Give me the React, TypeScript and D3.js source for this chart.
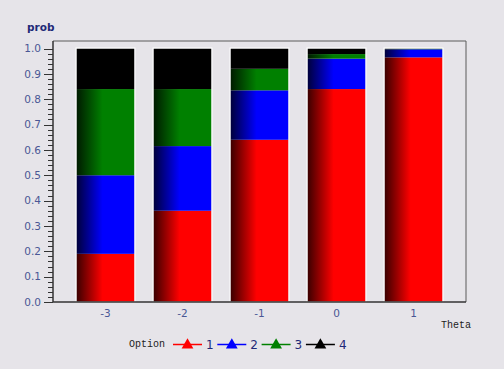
import React, { useEffect, useRef } from "react";
import * as d3 from "d3";

// theta categories on the x axis
const thetas = ["-3", "-2", "-1", "0", "1"];
const options = ["1", "2", "3", "4"];
// probability of each option at each theta
const opt1 = [0.19, 0.36, 0.64, 0.84, 0.965];
const opt2 = [0.31, 0.255, 0.195, 0.12, 0.032];
const opt3 = [0.34, 0.225, 0.085, 0.018, 0.002];
const opt4 = [0.16, 0.16, 0.08, 0.022, 0.001];
const yTicks = [0, 0.1, 0.2, 0.3, 0.4, 0.5, 0.6, 0.7, 0.8, 0.9, 1.0];

const colors = ["#ff0000", "#0000ff", "#008000", "#000000"];
const darks = ["#3a0000", "#00003a", "#001a00", "#000000"];

export default function App() {
  const ref = useRef<SVGSVGElement>(null);

  useEffect(() => {
    const W = 504, H = 369;
    const margin = { top: 41, right: 38, bottom: 67, left: 53 };
    const svg = d3.select(ref.current);
    svg.selectAll("*").remove();

    svg.append("rect").attr("width", W).attr("height", H).attr("fill", "#e6e4e9");

    const defs = svg.append("defs");
    colors.forEach((c, i) => {
      const g = defs.append("linearGradient").attr("id", "grad" + i)
        .attr("x1", "0").attr("x2", "1").attr("y1", "0").attr("y2", "0");
      g.append("stop").attr("offset", "0").attr("stop-color", darks[i]);
      g.append("stop").attr("offset", "0.45").attr("stop-color", c);
      g.append("stop").attr("offset", "1").attr("stop-color", c);
    });

    const x = d3.scaleBand()
      .domain(thetas)
      .range([margin.left, W - margin.right])
      .paddingInner(0.247)
      .paddingOuter(0.305);
    const y = d3.scaleLinear().domain([0, 1]).range([H - margin.bottom, 48.5]);

    const rows = thetas.map((t, i) => ({ theta: t, "1": opt1[i], "2": opt2[i], "3": opt3[i], "4": opt4[i] }));
    const stacked = d3.stack<any>().keys(options)(rows);

    const bars = svg.append("g");
    stacked.forEach((layer, k) => {
      bars.append("g")
        .selectAll("rect")
        .data(layer)
        .join("rect")
        .attr("x", (d: any) => x(d.data.theta)!)
        .attr("width", x.bandwidth())
        .attr("y", (d) => y(d[1]))
        .attr("height", (d) => Math.max(0, y(d[0]) - y(d[1])))
        .attr("fill", `url(#grad${k})`);
    });
    // white outline around each bar
    bars.append("g").selectAll("rect").data(thetas).join("rect")
      .attr("x", (d) => x(d)! - 0.5)
      .attr("width", x.bandwidth() + 1)
      .attr("y", y(1) - 0.5)
      .attr("height", y(0) - y(1) + 0.5)
      .attr("fill", "none")
      .attr("stroke", "#ffffff")
      .attr("stroke-width", 1);

    // frame
    const x0 = margin.left, x1 = W - margin.right, yb = H - margin.bottom, yt = margin.top;
    svg.append("path").attr("d", `M${x0},${yt}H${x1}V${yb}`)
      .attr("fill", "none").attr("stroke", "#5a5a5a").attr("stroke-width", 1);

    // y axis
    const yAxis = svg.append("g");
    yAxis.append("line").attr("x1", x0).attr("x2", x0).attr("y1", yt).attr("y2", yb)
      .attr("stroke", "#333").attr("stroke-width", 1.5);
    const minor = d3.range(0, 1.0001, 0.02);
    yAxis.selectAll("line.minor").data(minor).join("line").attr("class", "minor")
      .attr("x1", x0 - 5).attr("x2", x0).attr("y1", (d) => Math.round(y(d)) + 0.5).attr("y2", (d) => Math.round(y(d)) + 0.5)
      .attr("stroke", "#333");
    yAxis.selectAll("line.major").data(yTicks).join("line").attr("class", "major")
      .attr("x1", x0 - 9).attr("x2", x0).attr("y1", (d) => Math.round(y(d)) + 0.5).attr("y2", (d) => Math.round(y(d)) + 0.5)
      .attr("stroke", "#333");
    yAxis.selectAll("text").data(yTicks).join("text")
      .attr("x", 41).attr("y", (d) => y(d)).attr("dy", "0.35em")
      .attr("text-anchor", "end")
      .attr("font-family", "DejaVu Sans, sans-serif").attr("font-size", 10.5)
      .attr("fill", "#4a5795")
      .text((d) => d3.format(".1f")(d));

    svg.append("text").attr("x", 27).attr("y", 31)
      .attr("font-family", "DejaVu Sans, sans-serif").attr("font-size", 10.5).attr("font-weight", "bold")
      .attr("fill", "#1f2a78").text("prob");

    // x axis
    svg.append("line").attr("x1", x0).attr("x2", x1).attr("y1", yb).attr("y2", yb)
      .attr("stroke", "#333").attr("stroke-width", 1.5);
    svg.append("g").selectAll("text").data(thetas).join("text")
      .attr("x", (d) => x(d)! + x.bandwidth() / 2).attr("y", 317)
      .attr("text-anchor", "middle")
      .attr("font-family", "DejaVu Sans, sans-serif").attr("font-size", 10.5)
      .attr("fill", "#4a5795").text((d) => d);

    svg.append("text").attr("x", 441).attr("y", 328)
      .attr("font-family", "Liberation Mono, monospace").attr("font-size", 10)
      .attr("fill", "#222").text("Theta");

    // legend
    const lg = svg.append("g");
    lg.append("text").attr("x", 129).attr("y", 347)
      .attr("font-family", "Liberation Mono, monospace").attr("font-size", 10)
      .attr("fill", "#222").text("Option");
    const tri = d3.symbol().type(d3.symbolTriangle).size(60);
    options.forEach((o, i) => {
      const lx = 173 + i * 44.3;
      const g = lg.append("g");
      g.append("line").attr("x1", lx).attr("x2", lx + 29).attr("y1", 344.5).attr("y2", 344.5)
        .attr("stroke", colors[i]).attr("stroke-width", 1.5);
      g.append("path").attr("d", tri).attr("transform", `translate(${lx + 14.5},${345})`)
        .attr("fill", colors[i]);
      g.append("text").attr("x", lx + 33).attr("y", 349)
        .attr("font-family", "DejaVu Sans, sans-serif").attr("font-size", 12)
        .attr("fill", "#1f2a78").text(o);
    });
  }, []);

  return (
    <svg ref={ref} width={504} height={369}
      style={{ position: "absolute", left: 0, top: 0, display: "block" }} />
  );
}
